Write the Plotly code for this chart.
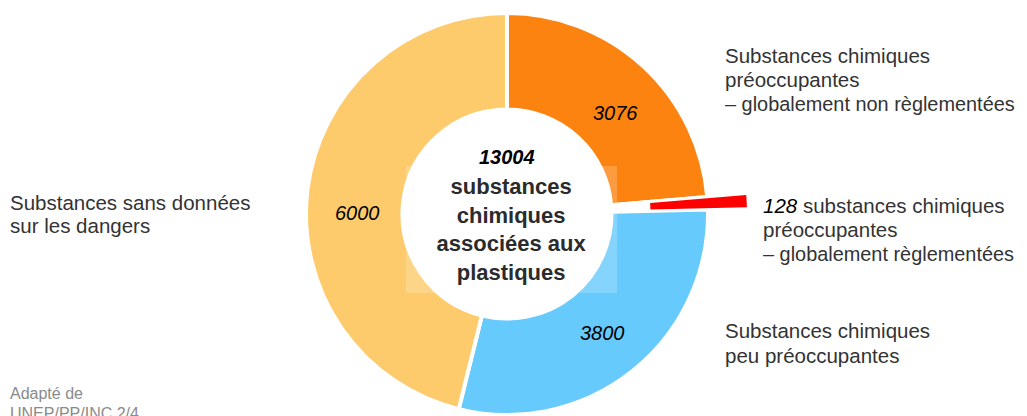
import math
import plotly.graph_objects as go

# ---- data ----
categories = [
    "Substances chimiques préoccupantes – globalement non règlementées",
    "Substances chimiques préoccupantes – globalement règlementées",
    "Substances chimiques peu préoccupantes",
    "Substances sans données sur les dangers",
]
values = [3076, 128, 3800, 6000]
colors = ["#FC830F", "#FF0000", "#66CAFD", "#FDCB6C"]
pulled_index = 1
center_title = "substances<br>chimiques<br>associées aux<br>plastiques"
source_lines = ["Adapté de", "UNEP/PP/INC.2/4"]
side_labels = [
    ["Substances chimiques", "préoccupantes", "– globalement non règlementées"],
    ["<i>{v}</i> substances chimiques", "préoccupantes", "– globalement règlementées"],
    ["Substances chimiques", "peu préoccupantes"],
    ["Substances sans données", "sur les dangers"],
]

# ---- layout geometry (screen pixels; page body has an 8px margin) ----
OFF = 8
W, H = 1027 - OFF, 416 - OFF
cx, cy, R = 507, 214, 201
hole = 0.52
pull_px = 39
FONT = "Liberation Sans, Arial, Helvetica, sans-serif"
TXT = "#333333"

def px(x):
    return (x - OFF) / W

def py(y):
    return 1 - (y - OFF) / H

total = sum(values)

# main donut (pulled slice left empty)
main_colors = [c if i != pulled_index else "rgba(0,0,0,0)" for i, c in enumerate(colors)]
fig = go.Figure()
fig.add_trace(go.Pie(
    labels=categories, values=values, sort=False, direction="clockwise", rotation=0,
    hole=hole, textinfo="none", hoverinfo="label+value",
    marker=dict(colors=main_colors, line=dict(color="white", width=4)),
    domain=dict(x=[px(cx - R), px(cx + R)], y=[py(cy + R), py(cy - R)]),
    showlegend=False,
))

# pulled slice drawn as the same donut shifted outward along its mid-angle
start = sum(values[:pulled_index]) / total * 360
mid = start + values[pulled_index] / total * 180
dx = pull_px * math.sin(math.radians(mid))
dy = -pull_px * math.cos(math.radians(mid))
pull_colors = [c if i == pulled_index else "rgba(0,0,0,0)" for i, c in enumerate(colors)]
fig.add_trace(go.Pie(
    labels=categories, values=values, sort=False, direction="clockwise", rotation=0,
    hole=hole, textinfo="none", hoverinfo="skip",
    marker=dict(colors=pull_colors, line=dict(color="rgba(0,0,0,0)", width=0)),
    domain=dict(x=[px(cx + dx - R), px(cx + dx + R)], y=[py(cy + dy + R), py(cy + dy - R)]),
    showlegend=False,
))

annotations = []

def ann(x, y, text, size, color, xanchor="center", **kw):
    annotations.append(dict(
        x=px(x), y=py(y), xref="paper", yref="paper", showarrow=False,
        xanchor=xanchor, yanchor="middle", text=text,
        font=dict(family=FONT, size=size, color=color), **kw,
    ))

# value labels inside slices
value_label_pos = {0: (615, 113), 2: (602, 333), 3: (357, 213)}
for i, (x, y) in value_label_pos.items():
    ann(x, y, f"<i>{values[i]}</i>", 20, "black")

# centre text
ann(507, 157, f"<b><i>{total}</i></b>", 20, "black")
ann(511.5, 229.5, f"<b>{center_title}</b>", 22, "#2b2b2b",
    width=209, height=125, borderpad=1, borderwidth=0,
    bgcolor="rgba(255,255,255,0.2)", align="center")

# side labels (one line per annotation)
side_pos = {0: (723, 55, 24.5), 1: (761, 205, 24.5), 2: (723, 330, 25), 3: (8, 202, 23.5)}
for i, lines in enumerate(side_labels):
    x0, y0, step = side_pos[i]
    for k, line in enumerate(lines):
        text = line.format(v=values[i]).replace(
            "<i>", "<i><span style='color:black'>").replace("</i>", "</span></i>")
        size = 19.9 if line.startswith("–") else 20.5
        ann(x0, y0 + k * step, text, size, TXT, xanchor="left")

# source
for k, line in enumerate(source_lines):
    ann(8, 393 + k * 20.5, line, 16, "#8a8a8a", xanchor="left")

fig.update_layout(
    width=W, height=H, margin=dict(l=0, r=0, t=0, b=0),
    paper_bgcolor="white", plot_bgcolor="white",
    annotations=annotations,
)

fig.write_html("out.html")
